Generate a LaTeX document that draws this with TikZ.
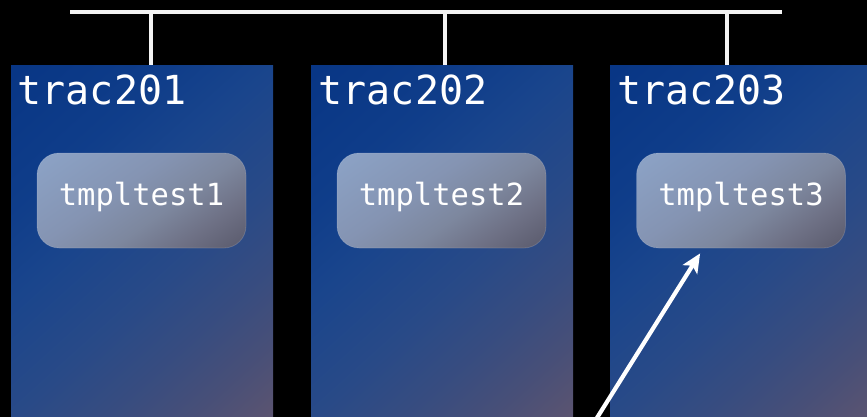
\documentclass[tikz,border=0pt]{standalone}
\usepackage{fontspec}
\newfontfamily\monofont{DejaVu Sans Mono}
\usetikzlibrary{arrows.meta,calc}
\definecolor{wire}{RGB}{244,244,244}
% vertical shadings: 25bp = far end (bottom-right), 75bp = near end (top-left)
\pgfdeclareverticalshading{panelsh}{100bp}{%
  rgb(0bp)=(0.36,0.33,0.44);
  rgb(25bp)=(0.36,0.33,0.44);
  rgb(31.5bp)=(0.28,0.31,0.47);
  rgb(37.5bp)=(0.22,0.30,0.50);
  rgb(45bp)=(0.16,0.29,0.53);
  rgb(55bp)=(0.10,0.27,0.55);
  rgb(62.5bp)=(0.06,0.24,0.54);
  rgb(75bp)=(0.03,0.21,0.52);
  rgb(100bp)=(0.03,0.21,0.52)}
\pgfdeclareverticalshading{boxsh}{100bp}{%
  rgb(0bp)=(0.35,0.35,0.42);
  rgb(25bp)=(0.35,0.35,0.42);
  rgb(35bp)=(0.43,0.44,0.52);
  rgb(44.5bp)=(0.49,0.53,0.62);
  rgb(55.5bp)=(0.52,0.58,0.70);
  rgb(75bp)=(0.55,0.64,0.78);
  rgb(100bp)=(0.55,0.64,0.78)}
\newcommand\diagfill[3]{% shading, angle, extent along gradient
  \shade[shading=#1, transform canvas={rotate around={#2:(path picture bounding box.center)}}]
    ($(path picture bounding box.center)+(-500,-#3/2)$) rectangle
    ($(path picture bounding box.center)+(500,#3/2)$);}
\tikzset{
  panel/.style={rectangle, draw=none, path picture={\diagfill{panelsh}{42}{436.8}},
    minimum width=262pt, minimum height=352pt, anchor=north west, inner sep=0pt},
  tbox/.style={rectangle, rounded corners=22pt, path picture={\diagfill{boxsh}{35}{197.7}},
    draw=white, draw opacity=0.15, line width=0.8pt,
    minimum width=209pt, minimum height=95pt, inner sep=0pt},
  plabel/.style={text=white, font=\monofont\fontsize{40}{40}\selectfont, inner sep=0pt, anchor=base west},
  blabel/.style={text=white, font=\monofont\fontsize{30.5}{30.5}\selectfont, inner sep=0pt, anchor=base},
  bus/.style={draw=wire, line width=4pt},
  arr/.style={draw=white, line width=4.2pt, -{Stealth[length=19pt,width=17pt,inset=4.5pt]}}
}
\begin{document}
\begin{tikzpicture}[x=1pt,y=-1pt]
\useasboundingbox (0,0) rectangle (867,417);
\fill[black] (0,0) rectangle (867,417);
\clip (0,0) rectangle (867,417);

% panels
\node[panel] (p1) at (11,65) {};
\node[panel] (p2) at (311,65) {};
\node[panel] (p3) at (610,65) {};

% bus
\coordinate (busL) at (70,12);
\coordinate (busR) at (782,12);
\draw[bus] (busL) -- (busR);
\coordinate (t1) at (151,12);
\coordinate (t2) at (445,12);
\coordinate (t3) at (727,12);
\draw[bus] (t1) -- (t1 |- p1.north);
\draw[bus] (t2) -- (t2 |- p2.north);
\draw[bus] (t3) -- (t3 |- p3.north);

% panel labels
\node[plabel] (l1) at (17.5,105) {trac201};
\node[plabel] (l2) at (318.5,105) {trac202};
\node[plabel] (l3) at (617,105) {trac203};

% boxes
\node[tbox] (b1) at (141.5,200.5) {};
\node[tbox] (b2) at (441.5,200.5) {};
\node[tbox] (b3) at (741,200.5) {};
\node[blabel] (bl1) at ($(b1.center)+(0,5)$) {tmpltest1};
\node[blabel] (bl2) at ($(b2.center)+(0,5)$) {tmpltest2};
\node[blabel] (bl3) at ($(b3.center)+(0,5)$) {tmpltest3};

% arrow
\coordinate (a0) at (595,421);
\coordinate (a1) at ($(b3.south west)+(64,5)$);
\draw[arr] (a0) -- (a1);
\end{tikzpicture}
\end{document}
